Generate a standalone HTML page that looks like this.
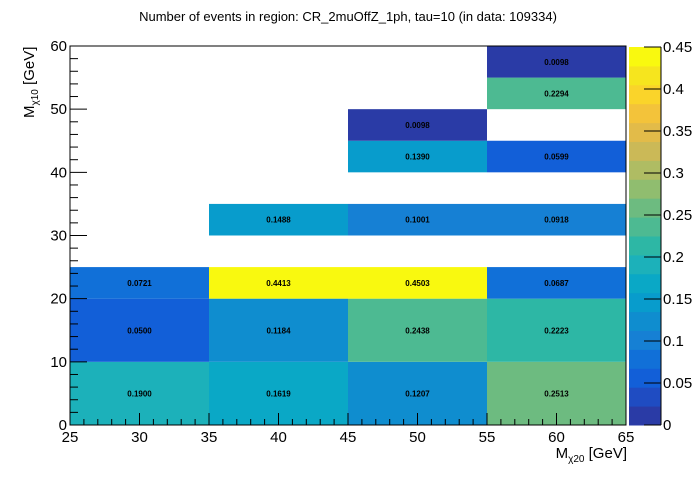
<!DOCTYPE html>
<html><head><meta charset="utf-8"><style>
body{margin:0;background:#fff}
svg text{font-family:"Liberation Sans",sans-serif}
</style></head><body>
<svg id="chart" width="696" height="472" xmlns="http://www.w3.org/2000/svg">
<rect width="696" height="472" fill="#fff"/>
<text x="348" y="21" font-size="13" text-anchor="middle">Number of events in region: CR_2muOffZ_1ph, tau=10 (in data: 109334)</text>
<g id="cells"></g><g id="axes"></g><g id="cbar"></g>
<text x="627" y="458" font-size="15" text-anchor="end">M<tspan font-size="10" dy="4">χ20</tspan><tspan dy="-4"> [GeV]</tspan></text>
<text transform="translate(34,118) rotate(-90)" font-size="15">M<tspan font-size="10" dy="4">χ10</tspan><tspan dy="-4"> [GeV]</tspan></text>
</svg>
<script>
const xEdges=[25,35,45,55,65];
const cellX0=[25,35,45,55, 25,35,45,55, 25,35,45,55, 35,45,55, 45,55, 45, 55,55];
const cellX1=[35,45,55,65, 35,45,55,65, 35,45,55,65, 45,55,65, 55,65, 55, 65,65];
const cellY0=[0,0,0,0, 10,10,10,10, 20,20,20,20, 30,30,30, 40,40, 45, 50,55];
const cellY1=[10,10,10,10, 20,20,20,20, 25,25,25,25, 35,35,35, 45,45, 50, 55,60];
const cellVals=[0.1900,0.1619,0.1207,0.2513, 0.0500,0.1184,0.2438,0.2223, 0.0721,0.4413,0.4503,0.0687, 0.1488,0.1001,0.0918, 0.1390,0.0599, 0.0098, 0.2294,0.0098];
const xTicks=[25,30,35,40,45,50,55,60,65];
const yTicks=[0,10,20,30,40,50,60];
const zTicks=[0,0.05,0.1,0.15,0.2,0.25,0.3,0.35,0.4,0.45];
const palette=["#2a3ba6","#1f4cc2","#125fd8","#1170d8","#1680d4","#0f8dcf","#089ccc","#0aa8c6","#1cb1ba","#2db7a5","#4dba92","#6dbb80","#90bd6f","#afbc63","#cbb957","#e2bb49","#f3c33a","#fad42a","#f6e51e","#f9f90f"];
const L=70,R=626,T=46,B=425,zmax=0.45;
const sx=v=>L+(v-25)/40*(R-L), sy=v=>B-v/60*(B-T);
const ns="http://www.w3.org/2000/svg";
function mk(tag,at,parent){const e=document.createElementNS(ns,tag);for(const k in at)e.setAttribute(k,at[k]);parent.appendChild(e);return e;}
const cells=document.getElementById('cells'),axes=document.getElementById('axes'),cb=document.getElementById('cbar');
cellVals.forEach((v,i)=>{
 let b=Math.min(palette.length-1,Math.floor(v/zmax*palette.length));
 const x0=sx(cellX0[i]),x1=sx(cellX1[i]),y0=sy(cellY1[i]),y1=sy(cellY0[i]);
 const r=mk('rect',{x:x0,y:y0,width:x1-x0,height:y1-y0,fill:palette[b]},cells);
 
 
 const t=mk('text',{x:(x0+x1)/2,y:(y0+y1)/2+3,'font-size':'8','font-weight':'bold','text-anchor':'middle'},cells);
 t.textContent=v.toFixed(4);
 
 
});
mk('rect',{x:L,y:T,width:R-L,height:B-T,fill:'none',stroke:'#000','stroke-width':1},axes);
for(let v=25;v<=65;v++){const x=sx(v);const len=(v%5===0)?12:6;mk('line',{x1:x,y1:B,x2:x,y2:B-len,stroke:'#000'},axes);}
xTicks.forEach(v=>{const t=mk('text',{x:sx(v),y:B+17,'font-size':'15','text-anchor':'middle'},axes);t.textContent=v;
 
 });
for(let v=0;v<=60;v+=2){const y=sy(v);const len=(v%10===0)?17:8;mk('line',{x1:L,y1:y,x2:L+len,y2:y,stroke:'#000'},axes);}
yTicks.forEach(v=>{const t=mk('text',{x:L-3,y:sy(v)+5,'font-size':'15','text-anchor':'end'},axes);t.textContent=v;
 
 });
const cx0=629,cx1=661,cT=47,cB=425;
palette.forEach((c,i)=>{const h=(cB-cT)/palette.length;const r=mk('rect',{x:cx0,y:cB-(i+1)*h,width:cx1-cx0,height:h+0.5,fill:c},cb);
 
 });
zTicks.forEach(v=>{const y=cB-v/zmax*(cB-cT);mk('line',{x1:cx1-17,y1:y,x2:cx1,y2:y,stroke:'#000'},cb);
 const t=mk('text',{x:cx1+2,y:y+5,'font-size':'15'},cb);t.textContent=v;
 
 });
mk('line',{x1:cx1,y1:cT,x2:cx1,y2:cB,stroke:'#000'},cb);
</script>
</body></html>
